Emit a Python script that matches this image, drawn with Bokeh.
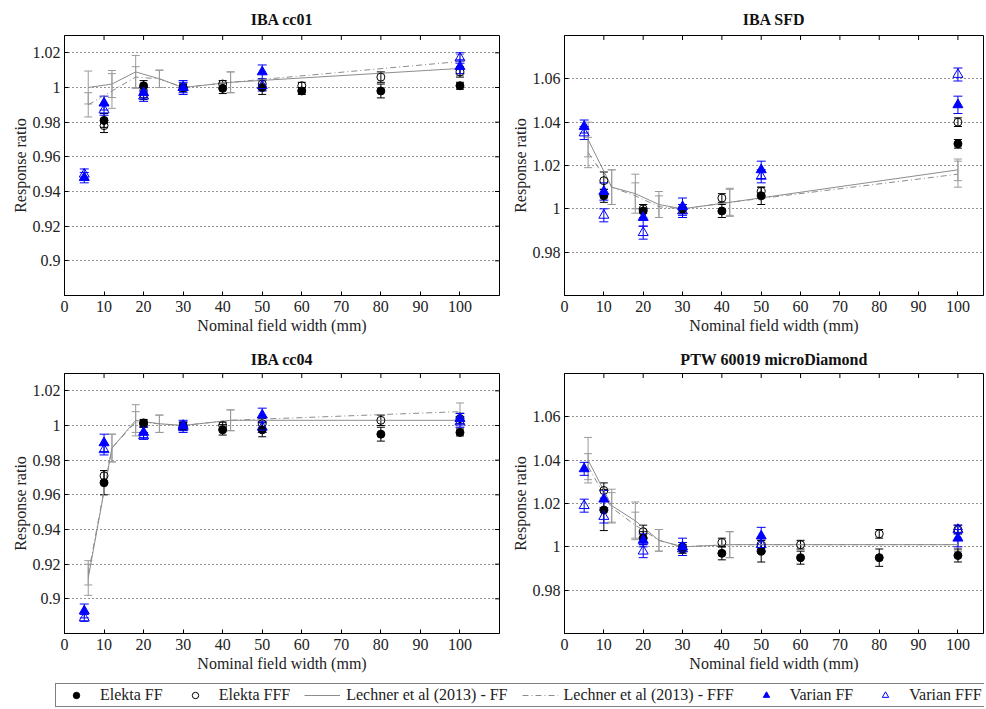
import math
from bokeh.plotting import figure
from bokeh.models import (ColumnDataSource, Whisker, TeeHead, FixedTicker,
                          Range1d, Legend, LegendItem)
from bokeh.layouts import column, row
from bokeh.embed import file_html
from bokeh.resources import INLINE

FONT = "Liberation Serif"
GRAY = "#8c8c8c"
GRAY_ERR = "#9a9a9a"
BLUE = "#0000ff"

# ---------------- data ----------------
X_TICKS = [0, 10, 20, 30, 40, 50, 60, 70, 80, 90, 100]
Y_TICKS_CC = [0.9, 0.92, 0.94, 0.96, 0.98, 1.0, 1.02]
Y_LABELS_CC = ["0.9", "0.92", "0.94", "0.96", "0.98", "1", "1.02"]
Y_TICKS_HI = [0.98, 1.0, 1.02, 1.04, 1.06]
Y_LABELS_HI = ["0.98", "1", "1.02", "1.04", "1.06"]

VARIAN_X = [5, 10, 20, 30, 50, 100]
LECHNER_X = [6, 12, 18, 24, 30, 42, 100]

# IBA cc01
CC01_ELEKTA_X = [10, 20, 30, 40, 50, 60, 80, 100]
CC01_ELEKTA_FF = [0.981, 1.001, 1.000, 0.9995, 1.000, 0.998, 0.998, 1.001]
CC01_ELEKTA_FF_ERR = [0.004, 0.003, 0.002, 0.003, 0.004, 0.002, 0.004, 0.002]
CC01_ELEKTA_FFF = [0.978, 0.996, 1.000, 1.002, 1.002, 1.001, 1.006, 1.009]
CC01_ELEKTA_FFF_ERR = [0.004, 0.003, 0.002, 0.002, 0.003, 0.002, 0.003, 0.003]
CC01_VARIAN_FF = [0.948, 0.991, 0.997, 1.000, 1.009, 1.012]
CC01_VARIAN_FF_ERR = [0.003, 0.004, 0.003, 0.004, 0.004, 0.004]
CC01_VARIAN_FFF = [0.950, 0.987, 0.995, 1.000, 1.001, 1.017]
CC01_VARIAN_FFF_ERR = [0.003, 0.003, 0.003, 0.003, 0.003, 0.003]
CC01_LECHNER_FF = [1.000, 1.002, 1.009, 1.005, 1.000, 1.003, 1.011]
CC01_LECHNER_FF_ERR = [0.0095, 0.0078, 0.0095, 0.005, 0.0, 0.006, 0.004]
CC01_LECHNER_FFF = [0.990, 0.998, 1.006, 1.005, 1.000, 1.003, 1.015]
CC01_LECHNER_FFF_ERR = [0.007, 0.010, 0.006, 0.005, 0.0, 0.006, 0.004]

# IBA SFD
SFD_ELEKTA_X = [10, 20, 30, 40, 50, 100]
SFD_ELEKTA_FF = [1.006, 0.999, 1.000, 0.999, 1.006, 1.030]
SFD_ELEKTA_FF_ERR = [0.003, 0.003, 0.002, 0.003, 0.004, 0.002]
SFD_ELEKTA_FFF = [1.013, 1.000, 1.000, 1.005, 1.008, 1.040]
SFD_ELEKTA_FFF_ERR = [0.004, 0.002, 0.002, 0.002, 0.002, 0.002]
SFD_VARIAN_FF = [1.038, 1.008, 0.996, 1.001, 1.018, 1.048]
SFD_VARIAN_FF_ERR = [0.003, 0.004, 0.004, 0.004, 0.004, 0.004]
SFD_VARIAN_FFF = [1.035, 0.997, 0.989, 0.999, 1.015, 1.062]
SFD_VARIAN_FFF_ERR = [0.003, 0.003, 0.003, 0.003, 0.003, 0.003]
SFD_LECHNER_FF = [1.032, 1.010, 1.007, 1.002, 1.000, 1.003, 1.018]
SFD_LECHNER_FF_ERR = [0.008, 0.008, 0.009, 0.006, 0.0, 0.0065, 0.005]
SFD_LECHNER_FFF = [1.026, 1.010, 1.006, 1.001, 1.000, 1.003, 1.016]
SFD_LECHNER_FFF_ERR = [0.007, 0.008, 0.006, 0.005, 0.0, 0.006, 0.006]

# IBA cc04
CC04_ELEKTA_X = [10, 20, 30, 40, 50, 80, 100]
CC04_ELEKTA_FF = [0.967, 1.0015, 0.9995, 0.9975, 0.9975, 0.995, 0.996]
CC04_ELEKTA_FF_ERR = [0.007, 0.002, 0.002, 0.003, 0.004, 0.004, 0.002]
CC04_ELEKTA_FFF = [0.971, 1.001, 1.000, 1.000, 1.001, 1.003, 1.004]
CC04_ELEKTA_FFF_ERR = [0.003, 0.002, 0.002, 0.002, 0.003, 0.003, 0.003]
CC04_VARIAN_FF = [0.893, 0.990, 0.996, 1.000, 1.006, 1.004]
CC04_VARIAN_FF_ERR = [0.004, 0.005, 0.003, 0.003, 0.004, 0.003]
CC04_VARIAN_FFF = [0.889, 0.986, 0.994, 0.999, 0.999, 1.002]
CC04_VARIAN_FFF_ERR = [0.002, 0.003, 0.002, 0.003, 0.003, 0.003]
CC04_LECHNER_FF = [0.912, 0.987, 1.003, 1.001, 1.000, 1.003, 1.003]
CC04_LECHNER_FF_ERR = [0.010, 0.008, 0.009, 0.005, 0.0, 0.006, 0.004]
CC04_LECHNER_FFF = [0.914, 0.987, 1.002, 1.001, 1.000, 1.003, 1.008]
CC04_LECHNER_FFF_ERR = [0.006, 0.008, 0.006, 0.005, 0.0, 0.006, 0.005]

# PTW 60019 microDiamond
MD_ELEKTA_X = [10, 20, 30, 40, 50, 60, 80, 100]
MD_ELEKTA_FF = [1.017, 1.004, 0.999, 0.997, 0.998, 0.995, 0.995, 0.996]
MD_ELEKTA_FF_ERR = [0.0095, 0.003, 0.002, 0.003, 0.005, 0.003, 0.004, 0.003]
MD_ELEKTA_FFF = [1.026, 1.007, 1.000, 1.002, 1.001, 1.001, 1.006, 1.008]
MD_ELEKTA_FFF_ERR = [0.0035, 0.003, 0.002, 0.002, 0.002, 0.002, 0.002, 0.002]
MD_VARIAN_FF = [1.036, 1.022, 1.003, 1.000, 1.005, 1.004]
MD_VARIAN_FF_ERR = [0.003, 0.004, 0.003, 0.004, 0.004, 0.004]
MD_VARIAN_FFF = [1.019, 1.014, 0.998, 0.999, 1.001, 1.008]
MD_VARIAN_FFF_ERR = [0.003, 0.003, 0.003, 0.003, 0.003, 0.002]
MD_LECHNER_FF = [1.040, 1.019, 1.012, 1.003, 1.000, 1.001, 1.001]
MD_LECHNER_FF_ERR = [0.0105, 0.0076, 0.0087, 0.005, 0.0, 0.006, 0.003]
MD_LECHNER_FFF = [1.037, 1.018, 1.010, 1.003, 1.000, 1.001, 1.001]
MD_LECHNER_FFF_ERR = [0.006, 0.007, 0.006, 0.005, 0.0, 0.006, 0.003]


def add_err(p, xs, ys, es, color, cap):
    pts = [(x, y - e, y + e) for x, y, e in zip(xs, ys, es) if e > 0]
    src = ColumnDataSource(dict(base=[a for a, _, _ in pts],
                                lower=[b for _, b, _ in pts],
                                upper=[c for _, _, c in pts]))
    w = Whisker(source=src, base="base", lower="lower", upper="upper",
                dimension="height", line_color=color, line_width=1,
                upper_head=TeeHead(size=cap, line_color=color, line_width=1),
                lower_head=TeeHead(size=cap, line_color=color, line_width=1))
    p.add_layout(w)


def style_axis(ax):
    ax.major_tick_in = 4
    ax.major_tick_out = 0
    ax.minor_tick_line_color = None
    ax.axis_line_color = "black"
    ax.major_tick_line_color = "black"
    ax.major_label_text_font = FONT
    ax.major_label_text_font_size = "16px"
    ax.major_label_text_color = "#222222"
    ax.axis_label_text_font = FONT
    ax.axis_label_text_font_size = "16px"
    ax.axis_label_text_font_style = "normal"
    ax.axis_label_text_color = "#222222"


def make_panel(title, xmax, yr, yticks, ylabels, ex, eff, effe, efff, efffe,
               vff, vffe, vfff, vfffe, lff, lffe, lfff, lfffe,
               width, height, bl, br, bt, bb, right_ticks, title_gap):
    p = figure(width=width, height=height, x_range=Range1d(0, xmax),
               y_range=Range1d(yr[0], yr[1]), output_backend="svg",
               toolbar_location=None, title=title,
               min_border_left=bl, min_border_right=br,
               min_border_top=bt, min_border_bottom=bb)
    p.title.text_font = FONT
    p.title.text_font_size = "16px"
    p.title.text_font_style = "bold"
    p.title.text_color = "#111111"
    p.title.align = "center"
    p.title.vertical_align = "top"
    p.title.standoff = title_gap
    p.outline_line_color = "black"
    p.background_fill_color = "white"

    p.xaxis.ticker = FixedTicker(ticks=X_TICKS)
    p.yaxis.ticker = FixedTicker(ticks=yticks)
    p.yaxis.major_label_overrides = dict(zip(yticks, ylabels))
    p.xaxis.axis_label = "Nominal field width (mm)"
    p.yaxis.axis_label = "Response ratio"
    for ax in (p.xaxis[0], p.yaxis[0]):
        style_axis(ax)
    p.xaxis.axis_label_standoff = 2
    p.yaxis.axis_label_standoff = 1
    p.yaxis.major_label_standoff = 4

    p.xgrid.visible = False
    p.ygrid.ticker = FixedTicker(ticks=yticks)
    p.ygrid.grid_line_color = "black"
    p.ygrid.grid_line_alpha = 0.85
    p.ygrid.grid_line_dash = "1 3"

    # inward box ticks on the top (and right) edges
    p.scatter(X_TICKS, [yr[1]] * len(X_TICKS), marker="dash", size=9,
              angle=math.pi / 2, line_color="black", line_width=1)
    if right_ticks:
        p.scatter([xmax] * len(yticks), yticks, marker="dash", size=9,
                  line_color="black", line_width=1)

    # Lechner et al (2013)
    add_err(p, LECHNER_X, lff, lffe, GRAY_ERR, 8)
    add_err(p, LECHNER_X, lfff, lfffe, GRAY_ERR, 8)
    p.line(LECHNER_X, lff, line_color=GRAY, line_width=1)
    p.line(LECHNER_X, lfff, line_color=GRAY, line_width=1, line_dash="6 3 1 3")

    # Elekta
    add_err(p, ex, eff, effe, "black", 8)
    add_err(p, ex, efff, efffe, "black", 8)
    p.scatter(ex, eff, marker="circle", size=8, fill_color="black", line_color="black")
    p.scatter(ex, efff, marker="circle", size=8, fill_color=None, line_color="black")

    # Varian
    add_err(p, VARIAN_X, vff, vffe, BLUE, 9)
    add_err(p, VARIAN_X, vfff, vfffe, BLUE, 9)
    p.scatter(VARIAN_X, vff, marker="triangle", size=10, fill_color=BLUE, line_color=BLUE)
    p.scatter(VARIAN_X, vfff, marker="triangle", size=10, fill_color=None, line_color=BLUE)
    return p


f1 = make_panel("IBA cc01", 110, (0.88, 1.03), Y_TICKS_CC, Y_LABELS_CC,
                CC01_ELEKTA_X, CC01_ELEKTA_FF, CC01_ELEKTA_FF_ERR,
                CC01_ELEKTA_FFF, CC01_ELEKTA_FFF_ERR,
                CC01_VARIAN_FF, CC01_VARIAN_FF_ERR, CC01_VARIAN_FFF, CC01_VARIAN_FFF_ERR,
                CC01_LECHNER_FF, CC01_LECHNER_FF_ERR, CC01_LECHNER_FFF, CC01_LECHNER_FFF_ERR,
                508, 340, 64, 9, 35, 44, True, 11)
f2 = make_panel("IBA SFD", 106.5, (0.96, 1.08), Y_TICKS_HI, Y_LABELS_HI,
                SFD_ELEKTA_X, SFD_ELEKTA_FF, SFD_ELEKTA_FF_ERR,
                SFD_ELEKTA_FFF, SFD_ELEKTA_FFF_ERR,
                SFD_VARIAN_FF, SFD_VARIAN_FF_ERR, SFD_VARIAN_FFF, SFD_VARIAN_FFF_ERR,
                SFD_LECHNER_FF, SFD_LECHNER_FF_ERR, SFD_LECHNER_FFF, SFD_LECHNER_FFF_ERR,
                476, 340, 55, 1, 34, 45, False, 11)
f3 = make_panel("IBA cc04", 110, (0.88, 1.03), Y_TICKS_CC, Y_LABELS_CC,
                CC04_ELEKTA_X, CC04_ELEKTA_FF, CC04_ELEKTA_FF_ERR,
                CC04_ELEKTA_FFF, CC04_ELEKTA_FFF_ERR,
                CC04_VARIAN_FF, CC04_VARIAN_FF_ERR, CC04_VARIAN_FFF, CC04_VARIAN_FFF_ERR,
                CC04_LECHNER_FF, CC04_LECHNER_FF_ERR, CC04_LECHNER_FFF, CC04_LECHNER_FFF_ERR,
                508, 337, 64, 9, 33, 44, True, 8)
f4 = make_panel("PTW 60019 microDiamond", 106.5, (0.96, 1.08), Y_TICKS_HI, Y_LABELS_HI,
                MD_ELEKTA_X, MD_ELEKTA_FF, MD_ELEKTA_FF_ERR,
                MD_ELEKTA_FFF, MD_ELEKTA_FFF_ERR,
                MD_VARIAN_FF, MD_VARIAN_FF_ERR, MD_VARIAN_FFF, MD_VARIAN_FFF_ERR,
                MD_LECHNER_FF, MD_LECHNER_FF_ERR, MD_LECHNER_FFF, MD_LECHNER_FFF_ERR,
                476, 337, 55, 1, 33, 44, False, 8)

# ---------------- legend strip ----------------
leg = figure(width=984, height=31, x_range=Range1d(0, 1), y_range=Range1d(0, 1),
             output_backend="svg", toolbar_location=None, min_border=0)
leg.axis.visible = False
leg.grid.visible = False
leg.outline_line_color = None
OFF = [-5]  # placeholder position outside the visible range (legend swatches only)
r1 = leg.scatter(OFF, OFF, marker="circle", size=8, fill_color="black", line_color="black")
r2 = leg.scatter(OFF, OFF, marker="circle", size=8, fill_color=None, line_color="black")
r3 = leg.line(OFF, OFF, line_color=GRAY, line_width=1)
r4 = leg.line(OFF, OFF, line_color=GRAY, line_width=1, line_dash="6 3 1 3")
r5 = leg.scatter(OFF, OFF, marker="triangle", size=10, fill_color=BLUE, line_color=BLUE)
r6 = leg.scatter(OFF, OFF, marker="triangle", size=10, fill_color=None, line_color=BLUE)
legend = Legend(items=[
    LegendItem(label="Elekta FF", renderers=[r1]),
    LegendItem(label="Elekta FFF", renderers=[r2]),
    LegendItem(label="Lechner et al (2013) - FF", renderers=[r3]),
    LegendItem(label="Lechner et al (2013) - FFF", renderers=[r4]),
    LegendItem(label="Varian FF", renderers=[r5]),
    LegendItem(label="Varian FFF", renderers=[r6]),
], orientation="horizontal", location=(55, 1))
legend.label_text_font = FONT
legend.label_text_font_size = "16px"
legend.label_text_color = "#222222"
legend.glyph_width = 36
legend.glyph_height = 16
legend.label_height = 16
legend.label_standoff = 6
legend.spacing = 14
legend.padding = 2
legend.margin = 0
legend.border_line_color = "black"
legend.border_line_width = 1
legend.background_fill_color = "white"
legend.background_fill_alpha = 1.0
leg.add_layout(legend, "center")

layout = column(row(f1, f2), row(f3, f4), leg)
open("out.html", "w").write(file_html(layout, INLINE))
